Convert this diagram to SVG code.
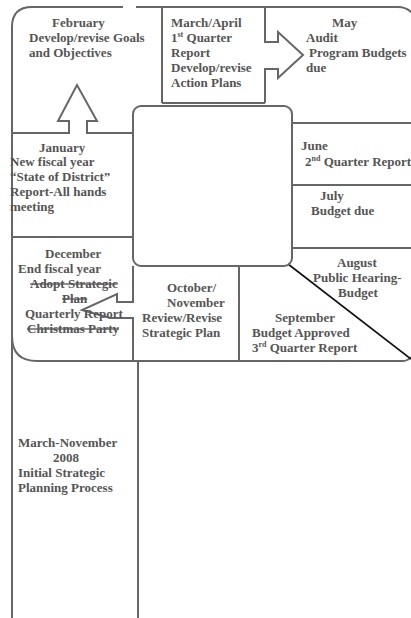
<svg xmlns="http://www.w3.org/2000/svg" width="411" height="618" viewBox="0 0 411 618">
<style>
.ln{fill:none;stroke:#666;stroke-width:2;stroke-linejoin:miter}
.t{font-family:"Liberation Serif","Times New Roman",serif;font-weight:bold;font-size:13px;fill:#555}
.s{text-decoration:line-through}
.sup{font-size:8px}
</style>
<rect width="411" height="618" fill="#fff"/>
<g id="connectors">
<path class="ln" d="M12,618 L12,27 Q12,7 32,7 L123,7 M136,7 L398,7 Q407,7 413,14"/>
<path class="ln" d="M12,336 Q12,361 37,361 L402,361 Q408,361 411,357" stroke-width="2.5"/>
<path class="ln" d="M138,361 L138,618"/>
<path d="M288,264 L411,359" fill="none" stroke="#111" stroke-width="1.6"/>
</g>
<g id="center"><rect class="ln" x="133" y="106" width="159" height="160" rx="8"/></g>
<g id="february">
<path class="ln" d="M12,133 L69,133 L69,121 L58,121 L77,85 L97,121 L87,121 L87,133 L133,133"/>
<text class="t" x="52" y="27">February</text>
<text class="t" x="29" y="42">Develop/revise Goals</text>
<text class="t" x="29" y="57">and Objectives</text>
</g>
<g id="march">
<path class="ln" d="M162,103 L162,7 M265,7 L265,42 L278,42 L278,32 L303,55 L278,78 L278,69 L265,69 L265,103"/>
<path class="ln" d="M162,103 L265,103" stroke-width="3"/>
<text class="t" x="171" y="27">March/April</text>
<text class="t" x="171" y="42">1<tspan class="sup" dy="-5">st</tspan><tspan dy="5"> Quarter</tspan></text>
<text class="t" x="171" y="57">Report</text>
<text class="t" x="171" y="72">Develop/revise</text>
<text class="t" x="171" y="87">Action Plans</text>
</g>
<g id="may">
<text class="t" x="332" y="27">May</text>
<text class="t" x="306" y="42">Audit</text>
<text class="t" x="309" y="57">Program Budgets</text>
<text class="t" x="306" y="72">due</text>
</g>
<g id="january">
<path class="ln" d="M12,237 L133,237"/>
<text class="t" x="39" y="152">January</text>
<text class="t" x="10" y="166">New fiscal year</text>
<text class="t" x="10" y="181">“State of District”</text>
<text class="t" x="10" y="196">Report-All hands</text>
<text class="t" x="10" y="211">meeting</text>
</g>
<g id="june">
<path class="ln" d="M292,123 L411,123 M292,123 L292,248"/>
<text class="t" x="301" y="150">June</text>
<text class="t" x="305" y="166">2<tspan class="sup" dy="-5">nd</tspan><tspan dy="5"> Quarter Report</tspan></text>
</g>
<g id="july">
<path class="ln" d="M292,185 L411,185"/>
<text class="t" x="320" y="200">July</text>
<text class="t" x="311" y="215">Budget due</text>
</g>
<g id="august">
<path class="ln" d="M292,248 L411,248"/>
<text class="t" x="337" y="267">August</text>
<text class="t" x="313" y="282">Public Hearing-</text>
<text class="t" x="338" y="297">Budget</text>
</g>
<g id="september">
<path class="ln" d="M239,266 L239,361"/>
<text class="t" x="275" y="322">September</text>
<text class="t" x="252" y="337">Budget Approved</text>
<text class="t" x="252" y="352">3<tspan class="sup" dy="-5">rd</tspan><tspan dy="5"> Quarter Report</tspan></text>
</g>
<g id="october">
<path class="ln" d="M133,266 L133,302 L117,302 L117,294 L82,310 L110,318 L133,318 L133,361"/>
<text class="t" x="167" y="292">October/</text>
<text class="t" x="167" y="307">November</text>
<text class="t" x="142" y="322">Review/Revise</text>
<text class="t" x="142" y="337">Strategic Plan</text>
</g>
<g id="december">
<text class="t" x="45" y="258">December</text>
<text class="t" x="18" y="273">End fiscal year</text>
<text class="t s" x="30" y="288">Adopt Strategic</text>
<text class="t s" x="62" y="303">Plan</text>
<text class="t" x="25" y="318">Quarterly Report</text>
<text class="t s" x="27" y="333">Christmas Party</text>
</g>
<g id="initial">
<text class="t" x="18" y="447">March-November</text>
<text class="t" x="53" y="462">2008</text>
<text class="t" x="18" y="477">Initial Strategic</text>
<text class="t" x="18" y="492">Planning Process</text>
</g>
</svg>
